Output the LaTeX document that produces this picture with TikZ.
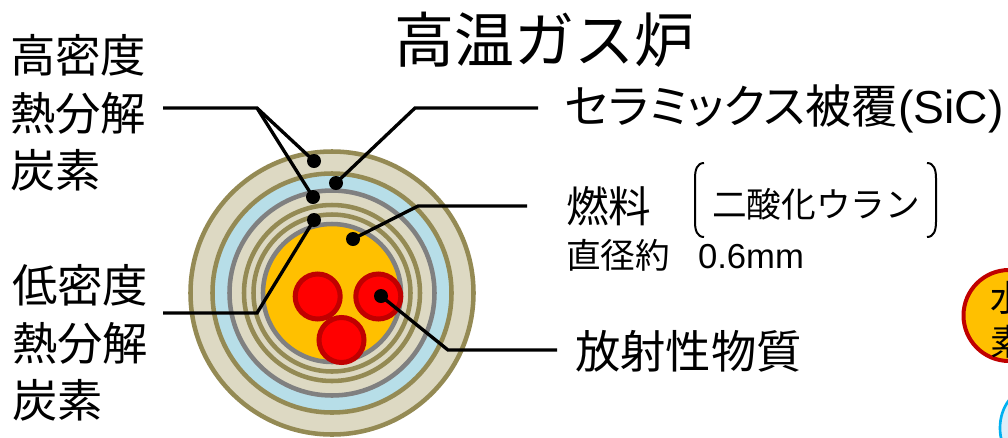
\documentclass[tikz,border=0pt]{standalone}
\usepackage{fontspec}
\setmainfont{Noto Sans CJK JP}
\newfontfamily\latin{Liberation Sans}

\definecolor{pycedge}{HTML}{948A54}
\definecolor{pycfill}{HTML}{DDD9C3}
\definecolor{sicfill}{HTML}{B7DEE8}
\definecolor{bufgray}{HTML}{808080}
\definecolor{fuelfill}{HTML}{FFC000}
\definecolor{fpred}{HTML}{FF0000}
\definecolor{fpedge}{HTML}{C00000}
\definecolor{dropfill}{HTML}{DCEFFA}
\definecolor{dropedge}{HTML}{00B0F0}

\tikzset{
	layer/.style={line width=3.4pt},
	leader/.style={line width=2.5pt},
	blackdot/.style={circle, fill=black, inner sep=0pt, minimum size=10.5pt},
	bigtext/.style={inner sep=0pt, font=\fontsize{34}{43}\selectfont},
	kakko/.style={line width=1.5pt}
}

\begin{document}
\begin{tikzpicture}[x=0.75pt, y=-0.75pt]
		\useasboundingbox (0,0) rectangle (1008,437);
		\clip (0,0) rectangle (1008,437);
		
		% coated particle, outside in
		\begin{scope}[shift={(332,293)}]
			\draw [layer, draw=pycedge, fill=pycfill] (0,0) circle (141.5);
			\draw [layer, draw=pycedge, fill=sicfill] (0,0) circle (119.5);
			\draw [layer, draw=bufgray, fill=pycfill] (0,0) circle (102.5);
			\draw [layer, draw=pycedge] (0,0) circle (88);
			\draw [layer, draw=pycedge] (0,0) circle (78.5);
			\draw [layer, draw=bufgray, fill=fuelfill] (0,0) circle (69);
		\end{scope}
		\draw [line width=3.75pt, draw=fpedge, fill=fpred] (317.7,296.5) circle (22.5);
		\draw [line width=3.75pt, draw=fpedge, fill=fpred] (378.3,296.5) circle (22.5);
		\draw [line width=3.75pt, draw=fpedge, fill=fpred] (341.5,340) circle (22.5);
		
		\node [blackdot] (hd1) at (314,161) {};
		\node [blackdot] (hd2) at (313,197) {};
		\node [blackdot] (ld) at (314,220) {};
		\node [blackdot] (sic) at (336,183) {};
		\node [blackdot] (fuel) at (353,239) {};
		\node [blackdot] (rad) at (381,296) {};
		
		\coordinate (hdK) at (257,108);
		\coordinate (hdE) at (163,108);
		\coordinate (ldK) at (257,313);
		\coordinate (ldE) at (163,313);
		\coordinate (sicK) at (415,108);
		\coordinate (sicE) at (538,108);
		\coordinate (fuelK) at (418,206);
		\coordinate (fuelE) at (527,206);
		\coordinate (radK) at (448,350);
		\coordinate (radE) at (557,350);
		
		\draw [leader] (hd1.center) -- (hdK) -- (hdE);
		\draw [leader] (hd2.center) -- (hdK);
		\draw [leader] (ld.center) -- (ldK) -- (ldE);
		\draw [leader] (sic.center) -- (sicK) -- (sicE);
		\draw [leader] (fuel.center) -- (fuelK) -- (fuelE);
		\draw [leader] (rad.center) -- (radK) -- (radE);
		
		\node [inner sep=0pt, font=\fontsize{45}{54}\selectfont] (title) at (544,40) {高温ガス炉};
		\node [bigtext, anchor=west, align=left] (hdlabel) at (10,113) {高密度\\熱分解\\炭素};
		\node [bigtext, anchor=west, align=left] (ldlabel) at (12,343) {低密度\\熱分解\\炭素};
		\node [bigtext, anchor=west, font=\fontsize{34.7}{43}\selectfont] (siclabel) at (565,109) {\addfontfeature{RawFeature=+palt}セラミックス被覆{\latin(SiC)}};
		\node [bigtext, anchor=west, font=\fontsize{32}{38}\selectfont] (fuellabel) at (566,206) {燃料};
		\node [inner sep=0pt, anchor=west, font=\fontsize{26}{31}\selectfont] (sizelabel) at (566,255) {直径約\hspace{0.8em}{\latin 0.6mm}};
		\node [inner sep=0pt, font=\fontsize{26}{31}\selectfont] (uo2) at (816,204) {二酸化ウラン};
		\node [bigtext, anchor=west] (radlabel) at (575,351) {放射性物質};
		
		% round brackets round the fuel material
		\draw [kakko] (704,163) .. controls (697,163) and (695,170) .. (695,178) -- (695,222) .. controls (695,230) and (697,237) .. (704,237);
		\draw [kakko] (927,163) .. controls (934,163) and (936,170) .. (936,178) -- (936,222) .. controls (936,230) and (934,237) .. (927,237);
		
		% next figure, cut at the edge
		\draw [line width=3pt, draw=fpedge, fill=fuelfill] (1009,315.5) circle (45.5);
		\node [inner sep=0pt, anchor=west, align=left, font=\fontsize{27}{33}\selectfont] (h2) at (990,320) {水\\素};
		\draw [line width=2pt, draw=dropedge, fill=dropfill] (1032,428) ellipse (32 and 40);
	\end{tikzpicture}
\end{document}
